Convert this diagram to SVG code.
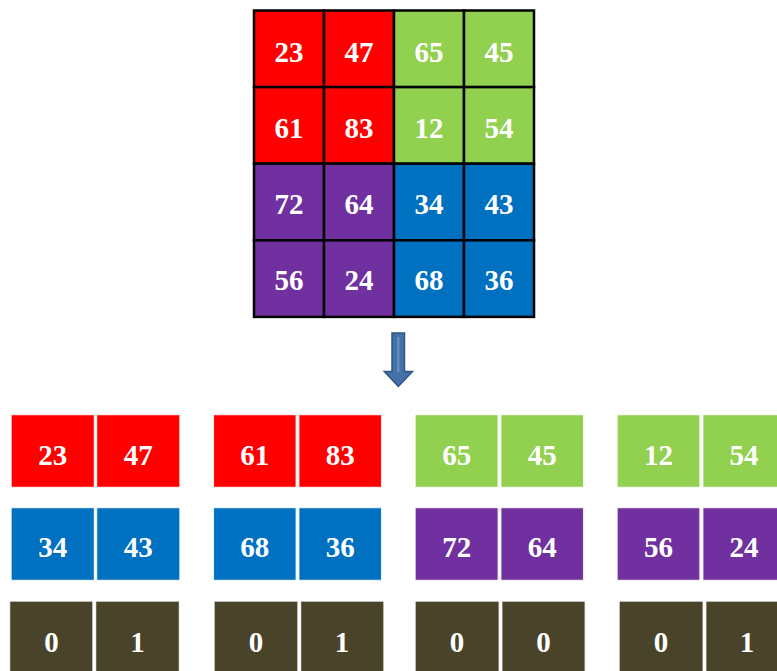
<svg xmlns="http://www.w3.org/2000/svg" width="777" height="671" viewBox="0 0 777 671">
<style>
text{font-family:"Liberation Serif","Times New Roman",serif;font-weight:bold;font-size:29px;fill:#fff;text-anchor:middle}
.r{fill:#FF0000}.g{fill:#92D050}.p{fill:#7030A0}.b{fill:#0070C0}.d{fill:#494429}
.grid rect{stroke:#000;stroke-width:2.5}
.cell rect{stroke:#fff;stroke-width:1.5;stroke-opacity:0.85}
</style>
<rect width="777" height="671" fill="#fff"/>
<g id="grid" class="grid">
<rect class="r" x="254" y="10.5" width="70" height="76.6"/>
<rect class="r" x="324" y="10.5" width="70" height="76.6"/>
<rect class="g" x="394" y="10.5" width="70" height="76.6"/>
<rect class="g" x="464" y="10.5" width="70" height="76.6"/>
<rect class="r" x="254" y="87.1" width="70" height="76.6"/>
<rect class="r" x="324" y="87.1" width="70" height="76.6"/>
<rect class="g" x="394" y="87.1" width="70" height="76.6"/>
<rect class="g" x="464" y="87.1" width="70" height="76.6"/>
<rect class="p" x="254" y="163.7" width="70" height="76.6"/>
<rect class="p" x="324" y="163.7" width="70" height="76.6"/>
<rect class="b" x="394" y="163.7" width="70" height="76.6"/>
<rect class="b" x="464" y="163.7" width="70" height="76.6"/>
<rect class="p" x="254" y="240.3" width="70" height="76.6"/>
<rect class="p" x="324" y="240.3" width="70" height="76.6"/>
<rect class="b" x="394" y="240.3" width="70" height="76.6"/>
<rect class="b" x="464" y="240.3" width="70" height="76.6"/>
<text x="289" y="62">23</text><text x="359" y="62">47</text><text x="429" y="62">65</text><text x="499" y="62">45</text>
<text x="289" y="138">61</text><text x="359" y="138">83</text><text x="429" y="138">12</text><text x="499" y="138">54</text>
<text x="289" y="214">72</text><text x="359" y="214">64</text><text x="429" y="214">34</text><text x="499" y="214">43</text>
<text x="289" y="290">56</text><text x="359" y="290">24</text><text x="429" y="290">68</text><text x="499" y="290">36</text>
</g>
<g id="connectors">
<path d="M392 333 H404.5 V371.5 H412.5 L398.3 386.5 L384.3 371.5 H392 Z" fill="#4472A8" stroke="#2E5585" stroke-width="1.5"/>
<line x1="398.3" y1="337" x2="398.3" y2="372" stroke="#6A94C8" stroke-width="2"/>
</g>
<g id="block1" class="cell">
<rect class="r" x="11" y="414.5" width="83.5" height="73"/><rect class="r" x="96.5" y="414.5" width="83.5" height="73"/>
<text x="52.7" y="464.5">23</text><text x="138.3" y="464.5">47</text>
<rect class="b" x="11" y="507.5" width="83.5" height="73"/><rect class="b" x="96.5" y="507.5" width="83.5" height="73"/>
<text x="52.7" y="557">34</text><text x="138.3" y="557">43</text>
<rect class="d" x="9.5" y="601" width="83.5" height="75"/><rect class="d" x="95.5" y="601" width="84" height="75"/>
<text x="51.5" y="652">0</text><text x="137.5" y="652">1</text>
</g>
<g id="block2" class="cell">
<rect class="r" x="213.3" y="414.5" width="83" height="73"/><rect class="r" x="298.7" y="414.5" width="83" height="73"/>
<text x="254.8" y="464.5">61</text><text x="340.2" y="464.5">83</text>
<rect class="b" x="213.3" y="507.5" width="83" height="73"/><rect class="b" x="298.7" y="507.5" width="83" height="73"/>
<text x="254.8" y="557">68</text><text x="340.2" y="557">36</text>
<rect class="d" x="214" y="601" width="84" height="75"/><rect class="d" x="300.5" y="601" width="83.5" height="75"/>
<text x="256" y="652">0</text><text x="342" y="652">1</text>
</g>
<g id="block3" class="cell">
<rect class="g" x="415" y="414.5" width="83.3" height="73"/><rect class="g" x="500.7" y="414.5" width="83" height="73"/>
<text x="456.7" y="464.5">65</text><text x="542.2" y="464.5">45</text>
<rect class="p" x="415" y="507.5" width="83.3" height="73"/><rect class="p" x="500.7" y="507.5" width="83" height="73"/>
<text x="456.7" y="557">72</text><text x="542.2" y="557">64</text>
<rect class="d" x="415" y="601" width="84.3" height="75"/><rect class="d" x="501.7" y="601" width="83.6" height="75"/>
<text x="457" y="652">0</text><text x="543.5" y="652">0</text>
</g>
<g id="block4" class="cell">
<rect class="g" x="617" y="414.5" width="83" height="73"/><rect class="g" x="702.7" y="414.5" width="83" height="73"/>
<text x="658.5" y="464.5">12</text><text x="744" y="464.5">54</text>
<rect class="p" x="617" y="507.5" width="83" height="73"/><rect class="p" x="702.7" y="507.5" width="83" height="73"/>
<text x="658.5" y="557">56</text><text x="744" y="557">24</text>
<rect class="d" x="619" y="601" width="84.3" height="75"/><rect class="d" x="705.7" y="601" width="84" height="75"/>
<text x="661" y="652">0</text><text x="747" y="652">1</text>
</g>
</svg>
